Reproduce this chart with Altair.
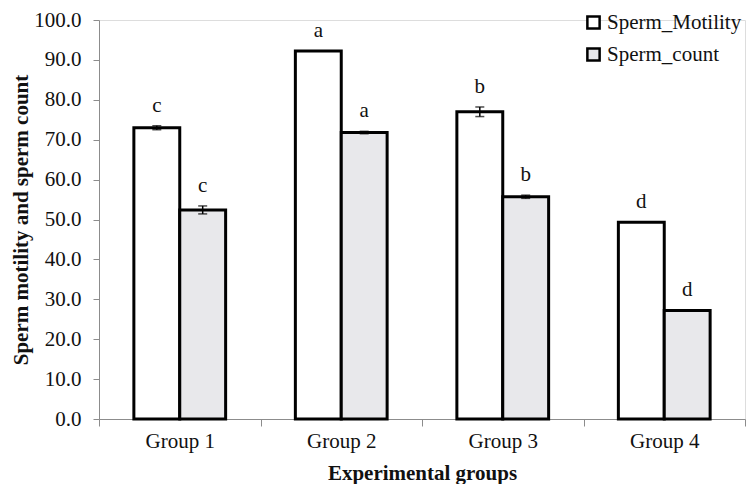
import altair as alt
import pandas as pd

groups = ["Group 1", "Group 2", "Group 3", "Group 4"]
series = ["Sperm_Motility", "Sperm_count"]
motility = [73.0, 92.2, 77.0, 49.3]
motility_err = [0.5, 0.0, 1.2, 0.0]
count = [52.4, 71.8, 55.7, 27.2]
count_err = [1.0, 0.3, 0.4, 0.0]
motility_letters = ["c", "a", "b", "d"]
count_letters = ["c", "a", "b", "d"]

rows = []
for i, g in enumerate(groups):
    rows.append({"group": g, "series": series[0], "value": motility[i], "err": motility_err[i], "letter": motility_letters[i]})
    rows.append({"group": g, "series": series[1], "value": count[i], "err": count_err[i], "letter": count_letters[i]})
df = pd.DataFrame(rows)
df["lo"] = df["value"] - df["err"]
df["hi"] = df["value"] + df["err"]

FONT = "Liberation Serif"
AX = "#8c8c8c"
FS = 21

x = alt.X("group:N", sort=groups, title="Experimental groups",
          scale=alt.Scale(paddingInner=0, paddingOuter=0),
          axis=alt.Axis(labelAngle=0, tickBand="extent", domainColor=AX, tickColor=AX,
                        tickSize=7, labelFontSize=FS, labelFont=FONT, labelColor="#111",
                        titleFont=FONT, titleFontSize=FS, titleFontWeight="bold", titleColor="#111",
                        labelPadding=4, titlePadding=11))
xo = alt.XOffset("series:N", sort=series, scale=alt.Scale(paddingOuter=0.76, paddingInner=0))

base = alt.Chart(df)

bars = base.mark_bar(stroke="black", strokeWidth=3).encode(
    x=x, xOffset=xo,
    y=alt.Y("value:Q", title="Sperm motility and sperm count",
            scale=alt.Scale(domain=[0, 100], nice=False),
            axis=alt.Axis(values=list(range(0, 101, 10)), tickCount=11, format=".1f", grid=False,
                          labelOverlap=False, labelFlush=False,
                          domainColor=AX, tickColor=AX, tickSize=6,
                          labelFontSize=FS, labelFont=FONT, labelColor="#111", labelPadding=12,
                          titleFont=FONT, titleFontSize=FS, titleFontWeight="bold", titleColor="#111",
                          titlePadding=2)),
    fill=alt.Fill("series:N", sort=series,
                  scale=alt.Scale(domain=series, range=["#ffffff", "#e8e8eb"]),
                  legend=alt.Legend(title=None, orient="none", legendX=484, legendY=-8,
                                    symbolType="square", symbolSize=150, symbolStrokeColor="black",
                                    symbolStrokeWidth=2.5, labelFont=FONT, labelFontSize=FS,
                                    labelColor="#111", rowPadding=9, labelOffset=3)),
)

eb = base.transform_filter("datum.err > 0")
rule = eb.mark_rule(color="black", strokeWidth=1.5).encode(x=x, xOffset=xo, y="lo:Q", y2="hi:Q")
cap_lo = eb.mark_tick(color="black", thickness=1.5, size=9, orient="horizontal").encode(x=x, xOffset=xo, y="lo:Q")
cap_hi = eb.mark_tick(color="black", thickness=1.5, size=9, orient="horizontal").encode(x=x, xOffset=xo, y="hi:Q")

letters = base.mark_text(font=FONT, fontSize=FS, dy=-20, color="#111").encode(
    x=x, xOffset=xo, y="hi:Q", text="letter:N")

chart = alt.layer(bars, rule, cap_lo, cap_hi, letters).properties(
    width=646, height=399,
    autosize=alt.AutoSizeParams(type="none"),
    padding={"left": 91, "top": 12, "right": 1, "bottom": 65},
).configure_view(stroke=None).configure(background="white")

chart.save("out.html", embed_options={"renderer": "svg", "actions": False})
